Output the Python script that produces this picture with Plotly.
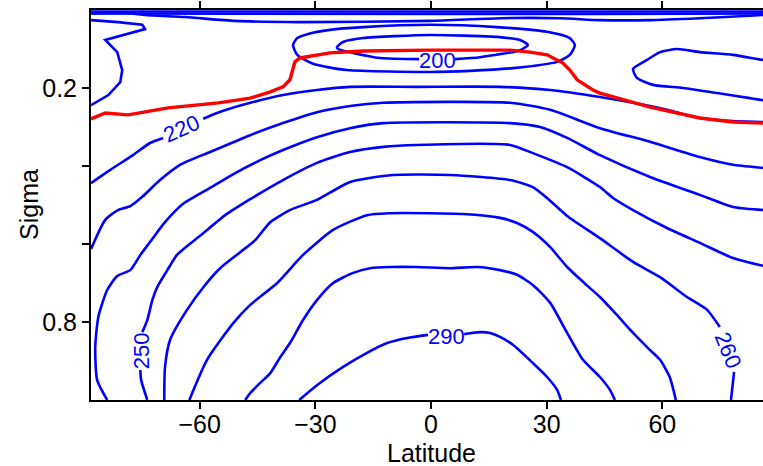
import plotly.graph_objects as go

# Zonal-mean temperature (K) on sigma levels: contour paths in (latitude, sigma)
# None entries leave gaps where the contour labels sit.

lat_200 = [-3.1, -13.2, -20.2, -24.1, -24.4, -22.8, -17.6, -0.3, 17.1, 23.1, 25.1, 23.1, 12.7, 6.2]
sig_200 = [0.126, 0.123, 0.110, 0.100, 0.095, 0.082, 0.072, 0.064, 0.069, 0.077, 0.090, 0.103, 0.121, 0.126]

lat_210_trop = [-35.8, -34.7, -32.1, -26.2, -17.6, -0.3, 17.1, 30.1, 36.0, 37.3, 36.0, 32.7, 21.3, 10.1, -0.3, -21.8, -30.6, -34.7, -35.8]
sig_210_trop = [0.090, 0.072, 0.062, 0.051, 0.044, 0.038, 0.044, 0.056, 0.072, 0.090, 0.115, 0.133, 0.149, 0.156, 0.159, 0.154, 0.138, 0.115, 0.090]

lat_210_south = [-88.2, -81.2, -74.9, -74.2, -84.5, -81.4, -80.1, -80.6, -83.7, -88.2]
sig_210_south = [0.026, 0.031, 0.038, 0.049, 0.077, 0.108, 0.154, 0.185, 0.218, 0.244]

lat_210_north = [88.2, 86.1, 78.3, 69.7, 63.8, 59.4, 56.0, 52.4, 53.4, 57.6, 65.3, 74.2, 82.7, 86.1, 88.2]
sig_210_north = [0.130, 0.128, 0.115, 0.108, 0.100, 0.108, 0.128, 0.151, 0.174, 0.192, 0.200, 0.213, 0.226, 0.231, 0.233]

lat_220_top = [-88.2, -78.0, -74.2, -63.8, -50.8, -34.0, -0.3, 17.9, 33.4, 43.8, 56.8, 69.7, 86.1, 88.2]
sig_220_top = [0.008, 0.008, 0.013, 0.018, 0.028, 0.031, 0.028, 0.021, 0.021, 0.026, 0.026, 0.021, 0.013, 0.012]

lat_220 = [-88.2, -83.2, -77.3, -72.9, -69.5, None, -59.1, -55.5, -46.9, -38.4, -29.6, -21.0, -3.6, 17.9, 30.9, 43.8, 52.4, 61.2, 69.7, 78.3, 86.1, 88.2]
sig_220 = [0.444, 0.410, 0.372, 0.341, 0.328, None, 0.279, 0.264, 0.238, 0.218, 0.205, 0.197, 0.197, 0.197, 0.205, 0.223, 0.238, 0.256, 0.277, 0.285, 0.287, 0.288]

lat_230 = [-88.2, -84.5, -81.2, -78.0, -74.9, -70.3, -65.1, -57.3, -46.9, -38.4, -29.6, -21.0, -12.4, 20.5, 30.9, 43.8, 56.8, 69.7, 78.3, 86.1, 88.2]
sig_230 = [0.613, 0.538, 0.513, 0.503, 0.479, 0.436, 0.397, 0.364, 0.321, 0.290, 0.262, 0.246, 0.238, 0.238, 0.256, 0.303, 0.338, 0.377, 0.397, 0.405, 0.407]

lat_240 = [-84.0, -86.6, -87.1, -86.3, -84.0, -81.4, -78.0, -75.4, -72.9, -69.0, -64.3, -57.3, -50.8, -44.3, -38.4, -29.6, -21.0, -12.4, 20.5, 28.3, 35.3, 43.8, 56.8, 69.7, 78.3, 86.1, 88.2]
sig_240 = [1.0, 0.949, 0.864, 0.787, 0.718, 0.682, 0.667, 0.628, 0.595, 0.544, 0.497, 0.456, 0.418, 0.385, 0.359, 0.326, 0.303, 0.290, 0.290, 0.300, 0.328, 0.372, 0.428, 0.474, 0.505, 0.513, 0.515]

lat_250 = [-73.6, -75.2, -75.4, None, -74.9, -73.6, -72.3, -71.0, -68.4, -65.9, -63.0, -59.9, -53.4, -46.9, -38.4, -29.6, -21.0, -12.4, -3.6, 20.5, 26.4, 35.3, 43.8, 47.2, 52.4, 61.2, 69.7, 78.3, 86.1, 88.2]
sig_250 = [1.0, 0.949, 0.923, None, 0.826, 0.795, 0.744, 0.710, 0.667, 0.628, 0.603, 0.579, 0.526, 0.485, 0.436, 0.392, 0.364, 0.351, 0.346, 0.346, 0.367, 0.403, 0.454, 0.482, 0.513, 0.559, 0.597, 0.636, 0.656, 0.660]

lat_260 = [-69.2, -69.0, -67.7, -63.3, -58.6, -54.7, -49.5, -45.6, -41.7, -36.6, -29.6, -21.0, -9.9, 4.9, 20.5, 26.4, 30.1, 35.3, 43.8, 52.4, 59.4, 66.4, 71.6, 74.9, None, 78.6, 77.8]
sig_260 = [1.0, 0.915, 0.846, 0.769, 0.705, 0.662, 0.621, 0.590, 0.544, 0.513, 0.487, 0.441, 0.423, 0.423, 0.436, 0.454, 0.482, 0.528, 0.585, 0.646, 0.685, 0.736, 0.769, 0.813, None, 0.928, 1.0]

lat_270 = [-62.7, -58.1, -51.3, -46.9, -39.9, -33.2, -25.4, -16.6, -10.6, -0.3, 8.3, 17.9, 22.3, 26.4, 30.9, 35.3, 39.4, 43.8, 48.2, 52.4, 56.8, 59.4, 61.9, 63.5]
sig_270 = [1.0, 0.897, 0.803, 0.756, 0.700, 0.628, 0.564, 0.526, 0.521, 0.521, 0.523, 0.533, 0.546, 0.569, 0.608, 0.659, 0.697, 0.736, 0.782, 0.828, 0.872, 0.897, 0.941, 1.0]

lat_280 = [-48.2, -46.9, -44.3, -41.7, -39.1, -36.6, -33.2, -29.6, -25.4, -20.2, -15.8, -10.6, -3.6, 4.9, 11.9, 17.9, 22.3, 26.4, 30.9, 35.3, 39.4, 43.8, 46.4, 47.7]
sig_280 = [1.0, 0.982, 0.956, 0.931, 0.890, 0.854, 0.795, 0.744, 0.700, 0.674, 0.662, 0.659, 0.659, 0.662, 0.659, 0.667, 0.679, 0.705, 0.751, 0.828, 0.897, 0.941, 0.974, 1.0]

lat_290 = [-34.2, -29.6, -22.8, -16.6, -11.4, -6.2, -0.8, None, 8.6, 12.7, 15.3, 17.9, 21.3, 26.4, 30.1, 32.7, 33.7]
sig_290 = [1.0, 0.962, 0.915, 0.879, 0.854, 0.841, 0.833, None, 0.831, 0.826, 0.828, 0.838, 0.859, 0.905, 0.941, 0.974, 1.0]

# crowded isotherms at the model top
lat_top = [-88.2, -45.0, 0.0, 45.0, 88.2]
sig_top_a = [0.004, 0.004, 0.004, 0.004, 0.004]
sig_top_b = [0.009, 0.010, 0.010, 0.010, 0.009]

# tropopause
lat_trop = [-88.2, -84.5, -78.6, -68.2, -55.2, -46.9, -41.7, -38.4, -36.6, -35.8, -35.3, -34.0, -26.2, -17.6, -0.3, 20.5, 25.7, 30.1, 34.2, 36.0, 37.9, 42.0, 43.8, 56.8, 69.7, 78.3, 86.1, 88.2]
sig_trop = [0.279, 0.264, 0.269, 0.251, 0.238, 0.226, 0.210, 0.197, 0.179, 0.154, 0.133, 0.123, 0.110, 0.105, 0.103, 0.103, 0.108, 0.115, 0.136, 0.154, 0.179, 0.205, 0.213, 0.249, 0.277, 0.287, 0.290, 0.291]

# contour labels: text, latitude, sigma, rotation
label_text = ["200", "220", "250", "260", "290"]
label_lat = [1.6, -64.6, -74.9, 77.0, 3.9]
label_sig = [0.129, 0.303, 0.874, 0.874, 0.838]
label_angle = [0, -24, -90, 68, 0]

lat_ticks = [-60, -30, 0, 30, 60]
sigma_ticks = [0.2, 0.4, 0.6, 0.8]
sigma_ticktext = ["0.2", "", "", "0.8"]

BLUE = "#0000ff"
RED = "#ff0000"
FONT = "Liberation Sans, Arial, Helvetica, sans-serif"
TICK_SIZE = 25

isotherms = [
    (lat_top, sig_top_a, "linear"), (lat_top, sig_top_b, "linear"),
    (lat_220_top, sig_220_top, "spline"),
    (lat_200, sig_200, "spline"), (lat_210_trop, sig_210_trop, "spline"),
    (lat_210_south, sig_210_south, "linear"), (lat_210_north, sig_210_north, "spline"),
    (lat_220, sig_220, "spline"), (lat_230, sig_230, "spline"), (lat_240, sig_240, "spline"),
    (lat_250, sig_250, "spline"), (lat_260, sig_260, "spline"), (lat_270, sig_270, "spline"),
    (lat_280, sig_280, "spline"), (lat_290, sig_290, "spline"),
]

fig = go.Figure()
for xs, ys, shape in isotherms:
    fig.add_trace(go.Scatter(
        x=xs, y=ys, mode="lines", connectgaps=False,
        line=dict(color=BLUE, width=2.6, shape=shape, smoothing=0.6),
        hoverinfo="skip", showlegend=False,
    ))

fig.add_trace(go.Scatter(
    x=lat_trop, y=sig_trop, mode="lines",
    line=dict(color=RED, width=3.4),
    hoverinfo="skip", showlegend=False,
))

for txt, la, sg, ang in zip(label_text, label_lat, label_sig, label_angle):
    fig.add_annotation(
        x=la, y=sg, xref="x", yref="y", text=txt, showarrow=False,
        textangle=ang, font=dict(family=FONT, size=22, color=BLUE),
    )

# axis titles
fig.add_annotation(
    x=0, y=-0.136, xref="x", yref="paper", text="Latitude", showarrow=False,
    yanchor="middle", font=dict(family=FONT, size=TICK_SIZE, color="black"),
)
fig.add_annotation(
    x=-0.0923, y=0.5026, xref="paper", yref="paper", text="Sigma", showarrow=False,
    textangle=-90, xanchor="center", yanchor="middle",
    font=dict(family=FONT, size=TICK_SIZE, color="black"),
)

fig.update_layout(
    width=763, height=466,
    margin=dict(l=91, r=0, t=10, b=66),
    paper_bgcolor="white", plot_bgcolor="white",
    font=dict(family=FONT, size=TICK_SIZE, color="black"),
    showlegend=False,
)
fig.update_xaxes(
    range=[-88.2, 86.1], tickvals=lat_ticks,
    ticks="outside", ticklen=7, tickwidth=1.5, tickcolor="black",
    ticklabelstandoff=-6,
    showline=True, linecolor="black", linewidth=2, mirror="ticks",
    showgrid=False, zeroline=False,
    tickfont=dict(family=FONT, size=TICK_SIZE, color="black"),
)
fig.update_yaxes(
    range=[1.0, 0.0], tickvals=sigma_ticks, ticktext=sigma_ticktext,
    ticks="outside", ticklen=7, tickwidth=1.5, tickcolor="black",
    showline=True, linecolor="black", linewidth=2,
    showgrid=False, zeroline=False,
    tickfont=dict(family=FONT, size=TICK_SIZE, color="black"),
)

fig.write_html("out.html")
